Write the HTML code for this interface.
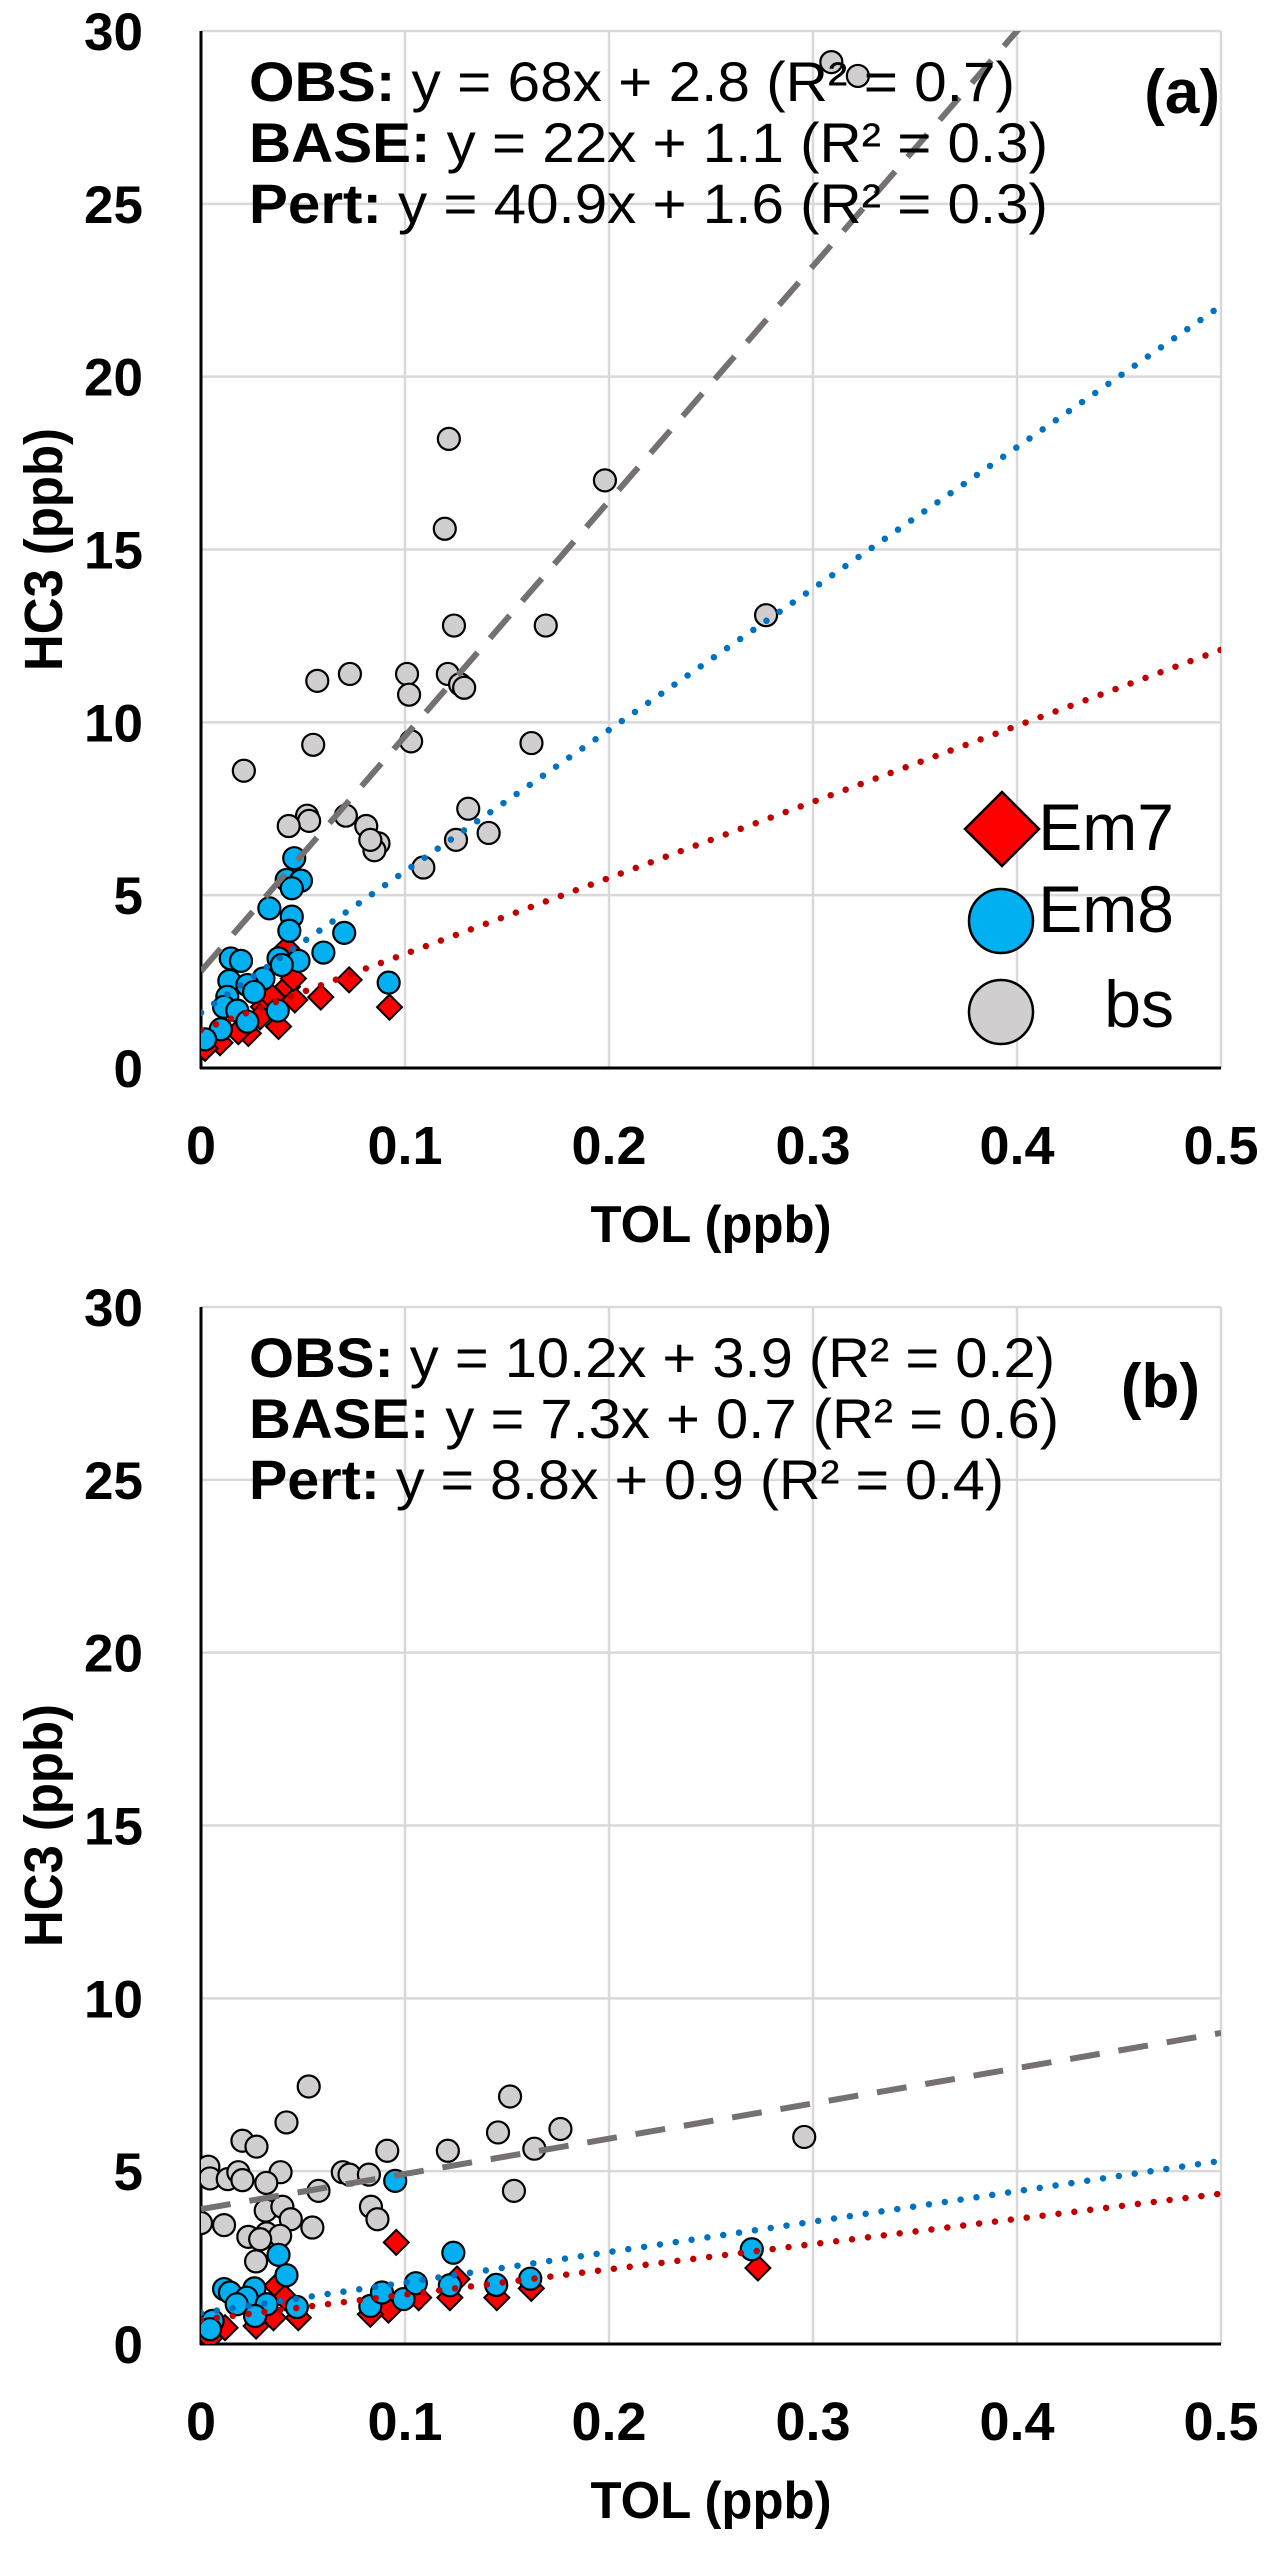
<!DOCTYPE html>
<html><head><meta charset="utf-8"><title>HC3 vs TOL</title>
<style>
html,body{margin:0;padding:0;background:#fff;}
svg{display:block;}
text{font-family:"Liberation Sans",Arial,sans-serif;}
</style></head>
<body>
<svg id="fig" width="1273" height="2549" viewBox="0 0 1273 2549" xmlns="http://www.w3.org/2000/svg"></svg>
<script>
// ---- data (panel a) ----
const aBsX = [0.309,0.322,0.1215,0.198,0.1195,0.124,0.169,0.277,0.057,0.073,0.101,0.121,0.102,0.127,0.129,0.055,0.103,0.162,0.021,0.052,0.053,0.043,0.071,0.081,0.131,0.141,0.125,0.087,0.085,0.109,0.083];
const aBsY = [29.1,28.7,18.2,17.0,15.6,12.8,12.8,13.1,11.2,11.4,11.4,11.4,10.8,11.1,11.0,9.35,9.45,9.4,8.6,7.3,7.15,7.0,7.3,7.0,7.5,6.8,6.6,6.5,6.3,5.8,6.6];
const aEm7X = [0.042,0.0424,0.046,0.0587,0.0726,0.0924,0.038,0.0232,0.0093,0.002,0.0306,0.0183,0.0453,0.029,0.0347];
const aEm7Y = [3.46,2.35,1.97,2.05,2.55,1.76,1.2,1.0,0.73,0.57,1.77,1.05,2.59,1.48,2.06];
const aEm8X = [0.0457,0.042,0.049,0.0445,0.0335,0.0445,0.0433,0.0702,0.060,0.0146,0.0196,0.038,0.0478,0.0396,0.0306,0.0139,0.0227,0.026,0.0129,0.092,0.0113,0.0178,0.0376,0.0227,0.0097,0.002];
const aEm8Y = [6.07,5.44,5.42,5.2,4.62,4.38,3.97,3.91,3.34,3.17,3.10,3.17,3.1,2.98,2.59,2.52,2.4,2.2,2.06,2.47,1.77,1.66,1.66,1.34,1.12,0.83];
// ---- data (panel b) ----
const bBsX = [0.0528,0.1515,0.0419,0.1456,0.1762,0.0203,0.0272,0.0913,0.121,0.1634,0.0036,0.0044,0.0131,0.0183,0.0203,0.039,0.032,0.0695,0.0728,0.0823,0.0576,0.1534,0.0317,0.0399,0.0833,0.0865,0.0,0.0113,0.044,0.0546,0.0322,0.0232,0.0388,0.029,0.027,0.2957];
const bBsY = [7.45,7.16,6.41,6.12,6.22,5.88,5.71,5.59,5.59,5.65,5.13,4.79,4.77,4.97,4.74,4.97,4.66,4.97,4.9,4.9,4.43,4.43,3.86,3.97,3.97,3.61,3.5,3.44,3.61,3.37,3.2,3.1,3.13,3.03,2.39,5.99];
const bEm7X = [0.0957,0.0371,0.0412,0.0919,0.1255,0.122,0.145,0.1619,0.1067,0.083,0.0477,0.0355,0.027,0.0118,0.0044,0.273];
const bEm7Y = [2.94,1.68,1.34,0.98,1.88,1.34,1.34,1.61,1.34,0.86,0.76,0.76,0.52,0.47,0.18,2.2];
const bEm8X = [0.0952,0.1237,0.038,0.0419,0.0113,0.0142,0.0262,0.0224,0.0322,0.047,0.083,0.0887,0.0993,0.1053,0.122,0.1447,0.1614,0.0057,0.0044,0.0175,0.0265,0.27];
const bEm8Y = [4.72,2.64,2.58,1.99,1.59,1.49,1.61,1.34,1.15,1.07,1.1,1.49,1.3,1.76,1.7,1.71,1.89,0.67,0.43,1.15,0.81,2.74];
// trend-line coefficients [slope, intercept]
const aFitObs = [68,2.8], aFitBase = [22,1.1], aFitPert = [40.9,1.6];
const bFitObs = [10.2,3.9], bFitBase = [7.3,0.7], bFitPert = [8.8,0.9];
const xTicks = [0,0.1,0.2,0.3,0.4,0.5];
const xTickLabels = ["0","0.1","0.2","0.3","0.4","0.5"];
const yTicks = [0,5,10,15,20,25,30];
const yTickLabels = ["0","5","10","15","20","25","30"];
const aEqs = [["OBS:"," y = 68x + 2.8 (R² = 0.7)"],["BASE:","  y = 22x + 1.1 (R² = 0.3)"],["Pert:"," y = 40.9x + 1.6 (R² = 0.3)"]];
const bEqs = [["OBS:"," y = 10.2x + 3.9 (R² = 0.2)"],["BASE:","  y = 7.3x + 0.7 (R² = 0.6)"],["Pert:"," y = 8.8x + 0.9 (R² = 0.4)"]];

const NS = "http://www.w3.org/2000/svg";
const svg = document.getElementById('fig');
function mk(tag, attrs, parent){
  const e = document.createElementNS(NS, tag);
  for (const k in attrs) e.setAttribute(k, attrs[k]);
  (parent||svg).appendChild(e);
  return e;
}

function panel(id, top, bsX, bsY, e7X, e7Y, e8X, e8Y, fO, fB, fP, eqs, eqW, label, labelR, labelY, legend){
  const L = 201, R = 1221, T = top, B = top + 1037;
  const sx = v => L + (v/0.5)*(R-L);
  const sy = v => B - (v/30)*(B-T);
  const g = mk('g', {});
  
  
  const cp = mk('clipPath', {id:'clip-'+id}, g);
  mk('rect', {x:L, y:T, width:R-L, height:B-T}, cp);
  const grid = mk('g', {stroke:'#d9d9d9','stroke-width':2.5}, g);
  
  
  xTicks.forEach(v => { if (v>0) mk('line', {x1:sx(v), x2:sx(v), y1:T, y2:B}, grid); });
  yTicks.forEach(v => { if (v>0) mk('line', {x1:L, x2:R, y1:sy(v), y2:sy(v)}, grid); });
  const ya = mk('line', {x1:L, x2:L, y1:T, y2:B+1, stroke:'#000','stroke-width':3}, g);
  
  
  const xa = mk('line', {x1:L-1, x2:R, y1:B, y2:B, stroke:'#000','stroke-width':3}, g);
  
  
  xTicks.forEach((v,i) => {
    const t = mk('text', {x:sx(v), y:B+96, 'text-anchor':'middle', 'font-size':54, 'font-weight':'bold'}, g);
    t.textContent = xTickLabels[i];
    
    
  });
  yTicks.forEach((v,i) => {
    const t = mk('text', {x:143, y:sy(v)+19, 'text-anchor':'end', 'font-size':53, 'font-weight':'bold'}, g);
    t.textContent = yTickLabels[i];
    
    
  });
  const xt = mk('text', {x:711, y:B+174, 'text-anchor':'middle', 'font-size':52, 'font-weight':'bold', textLength:241, lengthAdjust:'spacingAndGlyphs'}, g);
  xt.textContent = 'TOL (ppb)';
  
  
  const cy = (T+B)/2;
  const yt = mk('text', {x:0, y:0, 'text-anchor':'middle', 'font-size':54, 'font-weight':'bold', textLength:243, lengthAdjust:'spacingAndGlyphs', transform:'translate(62,'+cy+') rotate(-90)'}, g);
  yt.textContent = 'HC3 (ppb)';
  
  
  const pts = mk('g', {'clip-path':'url(#clip-'+id+')'}, g);
  bsX.forEach((x,i) => {
    const c = mk('circle', {cx:sx(x), cy:sy(bsY[i]), r:11, fill:'#d0cece', stroke:'#000','stroke-width':2.2}, pts);
    
    
  });
  e7X.forEach((x,i) => {
    const cx = sx(x), cy2 = sy(e7Y[i]), h = 12.5;
    const p = mk('polygon', {points:`${cx},${cy2-h} ${cx+h},${cy2} ${cx},${cy2+h} ${cx-h},${cy2}`, fill:'#ff0000', stroke:'#000','stroke-width':2}, pts);
    
    
  });
  e8X.forEach((x,i) => {
    const c = mk('circle', {cx:sx(x), cy:sy(e8Y[i]), r:11, fill:'#00b0f0', stroke:'#000','stroke-width':2.2}, pts);
    
    
  });
  const lines = mk('g', {'clip-path':'url(#clip-'+id+')', fill:'none'}, g);
  const lo = mk('line', {x1:sx(0), y1:sy(fO[1]), x2:sx(0.5), y2:sy(fO[0]*0.5+fO[1]), stroke:'#767171','stroke-width':6,'stroke-dasharray':'30 19'}, lines);
  
  
  const lp = mk('line', {x1:sx(0), y1:sy(fP[1]), x2:sx(0.5), y2:sy(fP[0]*0.5+fP[1]), stroke:'#0070c0','stroke-width':6.5,'stroke-dasharray':'0 16','stroke-linecap':'round'}, lines);
  
  
  const lb = mk('line', {x1:sx(0), y1:sy(fB[1]), x2:sx(0.5), y2:sy(fB[0]*0.5+fB[1]), stroke:'#c00000','stroke-width':6.5,'stroke-dasharray':'0 16','stroke-linecap':'round'}, lines);
  
  
  const baseY = [T+70, T+131, T+192];
  eqs.forEach((eq,i) => {
    const t = mk('text', {x:249, y:baseY[i], 'font-size':56, textLength:eqW[i]-249, lengthAdjust:'spacingAndGlyphs', 'xml:space':'preserve'}, g);
    const b = mk('tspan', {'font-weight':'bold'}, t); b.textContent = eq[0];
    const r = mk('tspan', {}, t); r.textContent = eq[1];
    
    
  });
  const pl = mk('text', {x:labelR, y:T+labelY, 'text-anchor':'end', 'font-size':62, 'font-weight':'bold'}, g);
  pl.textContent = label;
  
  
  if (legend){
    const lg = mk('g', {}, g);
    
    
    const d = mk('polygon', {points:'1002,792 1039,829 1002,866 965,829', fill:'#ff0000', stroke:'#000','stroke-width':2.5}, lg);
    
    
    const c1 = mk('circle', {cx:1001, cy:921, r:32, fill:'#00b0f0', stroke:'#000','stroke-width':2.5}, lg);
    
    
    const c2 = mk('circle', {cx:1001, cy:1012, r:32, fill:'#d0cece', stroke:'#000','stroke-width':2.5}, lg);
    
    
    [['Em7',850],['Em8',932],['bs',1027]].forEach(([s,y]) => {
      const t = mk('text', {x:1174, y:y, 'text-anchor':'end', 'font-size':66}, lg);
      t.textContent = s;
      
      
    });
  }
}
panel('a', 31, aBsX, aBsY, aEm7X, aEm7Y, aEm8X, aEm8Y, aFitObs, aFitBase, aFitPert, aEqs, [1015,1048,1048], '(a)', 1220, 82, true);
panel('b', 1307, bBsX, bBsY, bEm7X, bEm7Y, bEm8X, bEm8Y, bFitObs, bFitBase, bFitPert, bEqs, [1055,1059,1004], '(b)', 1200, 100, false);
</script>
</body></html>
